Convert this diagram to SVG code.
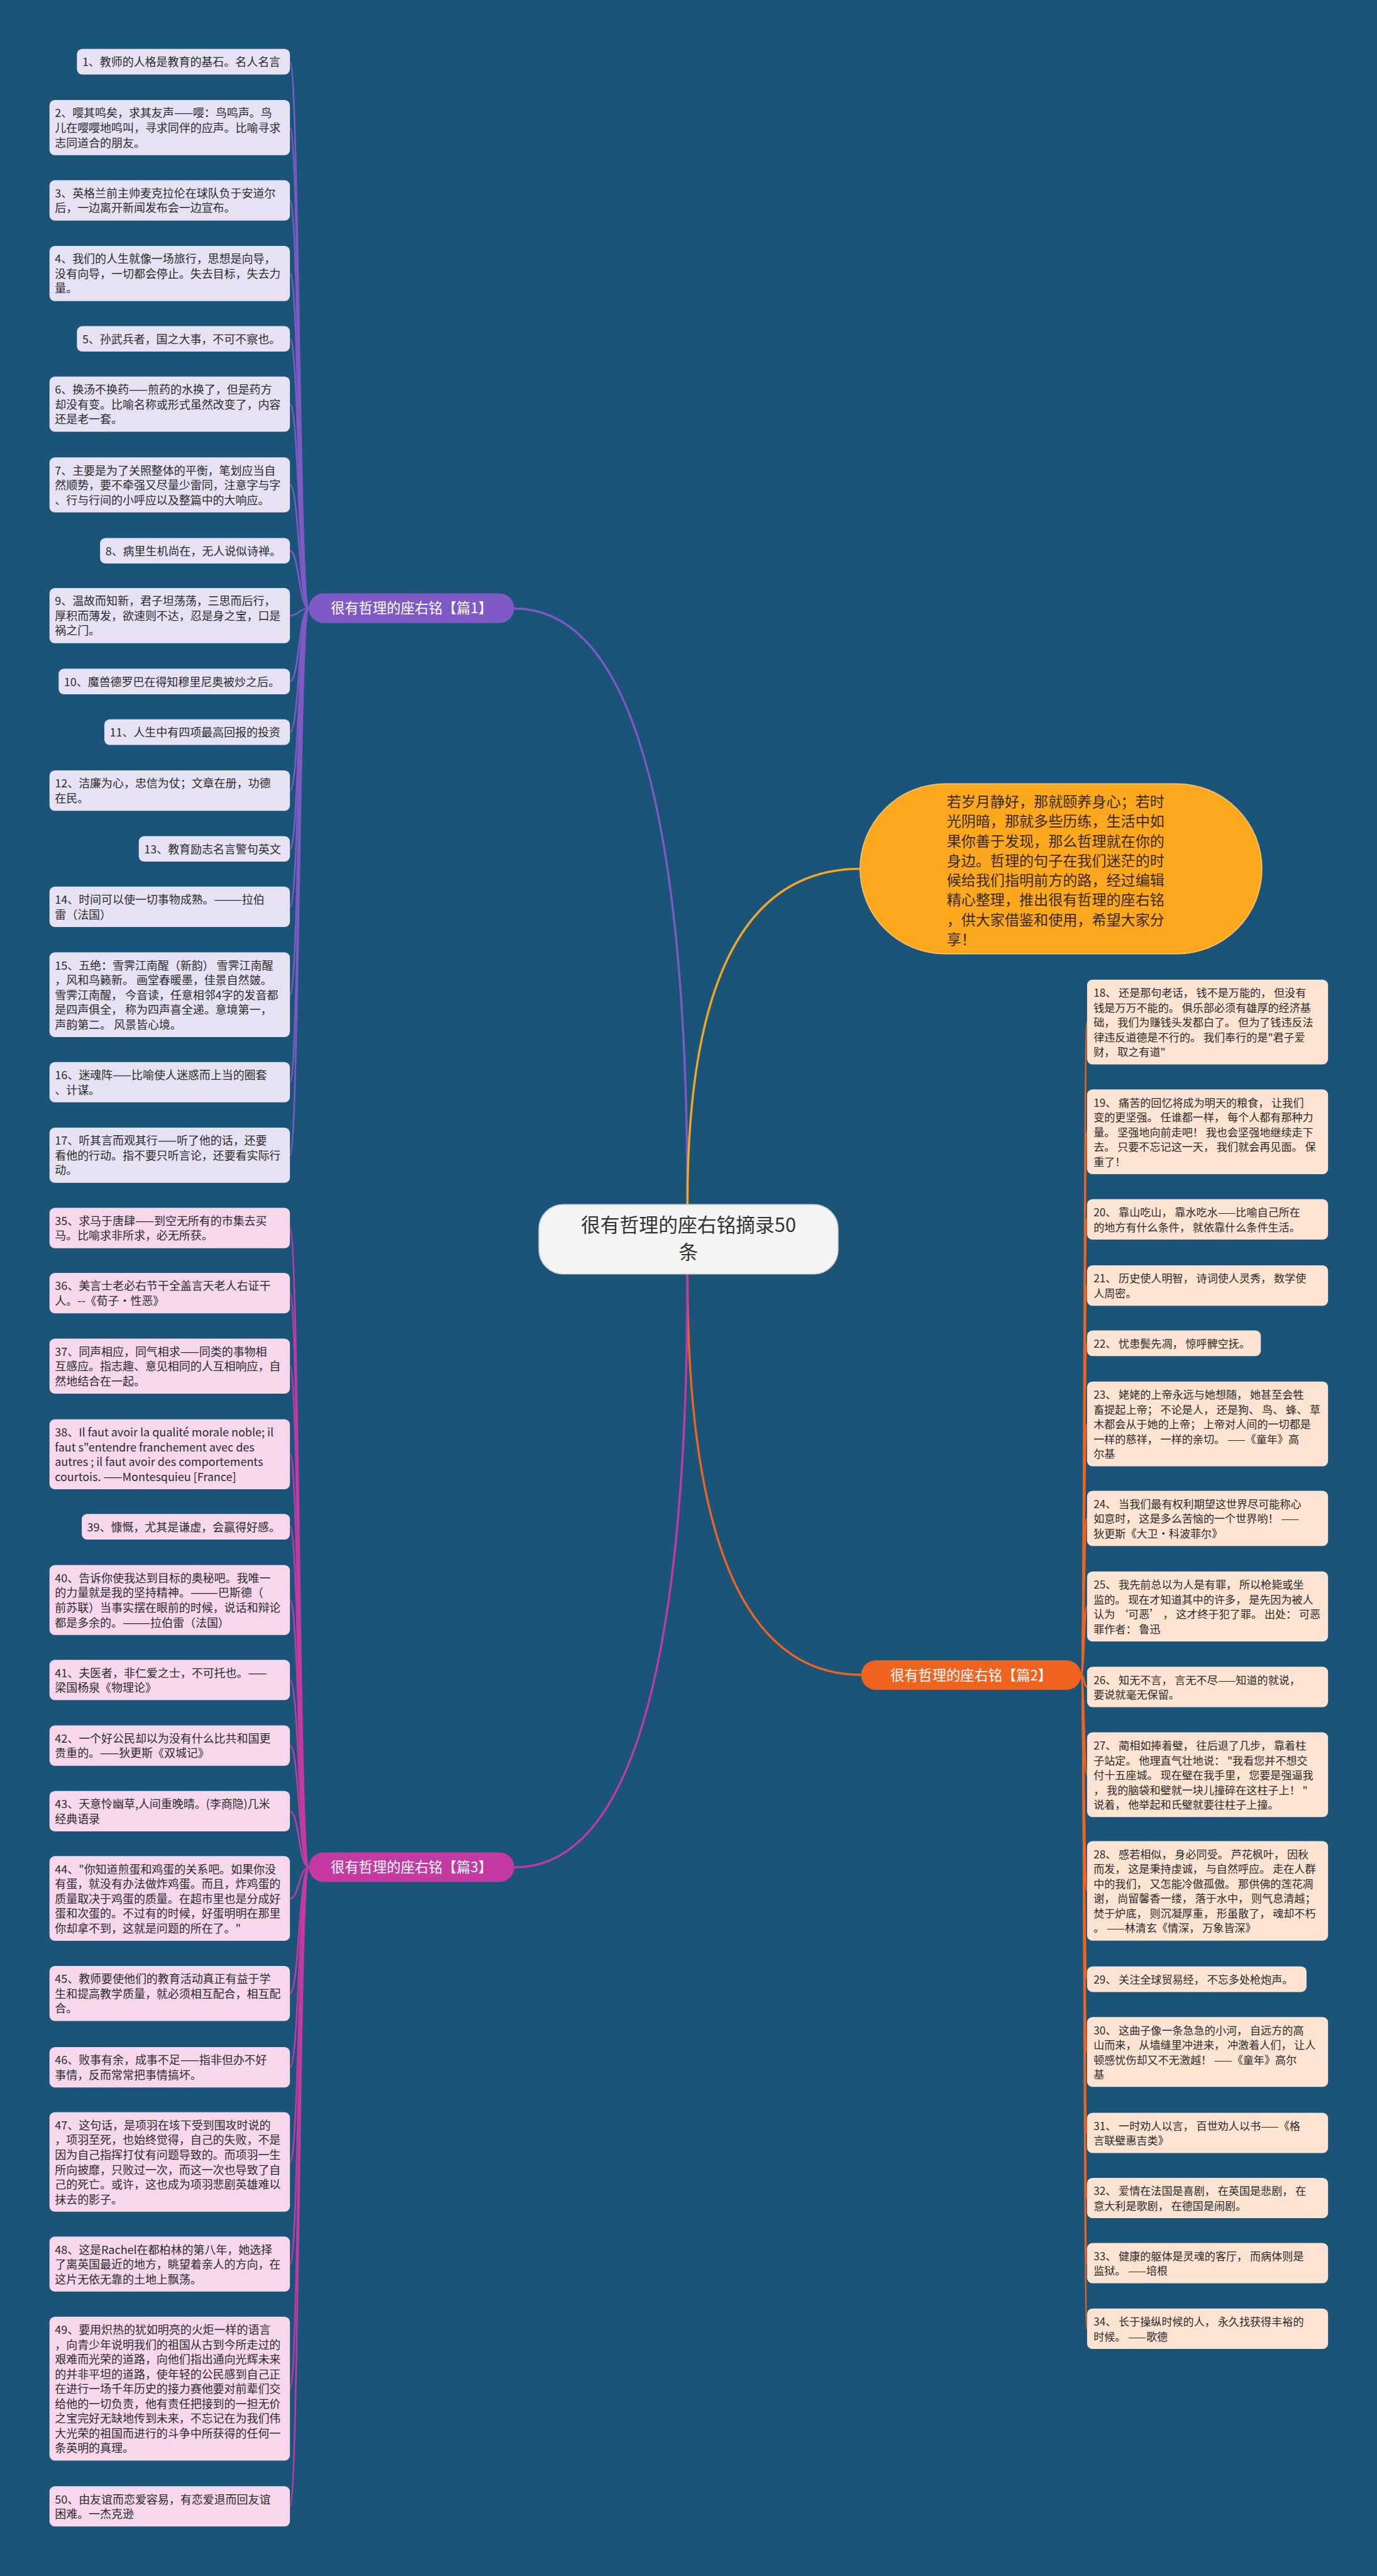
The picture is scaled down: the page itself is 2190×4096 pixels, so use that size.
<svg xmlns="http://www.w3.org/2000/svg" width="2190" height="4096" viewBox="0 0 2190 4096">
<style>
.t{font-family:"Noto Sans CJK SC","Noto Sans",sans-serif;font-size:21px;fill:#2b2b2b}
.tr{font-family:"Noto Sans CJK SC","Noto Sans",sans-serif;font-size:20px;fill:#2b2b2b}
.b1{fill:#e6e1f3}
.b3{fill:#f6d7ec}
.b2{fill:#fde3d2}
.lt{font-family:"Noto Sans CJK SC",sans-serif;font-size:26px;fill:#ffffff;text-anchor:middle}
.c1{fill:none;stroke:#7f5ac6;stroke-width:3}
.c3{fill:none;stroke:#c43aa2;stroke-width:3}
.c2{fill:none;stroke:#f0631f;stroke-width:3}
</style>
<rect width="2190" height="4096" fill="#1b5479"/>
<g transform="scale(0.85547)">
<g id="connectors">
<path d="M1278 2239 Q1278 1131 956 1131" fill="none" stroke="#7f5ac6" stroke-width="4"/>
<path d="M1278 2239 Q1278 1615 1599 1615" fill="none" stroke="#f5a623" stroke-width="4"/>
<path d="M1278 2368 Q1278 3113 1601 3113" fill="none" stroke="#f0631f" stroke-width="4"/>
<path d="M1278 2368 Q1278 3471 956 3471" fill="none" stroke="#c43aa2" stroke-width="4"/>
<path class="c1" d="M574 1131 C556 1131 556 114.75 539 114.75"/>
<path class="c1" d="M574 1131 C556 1131 556 237.25 539 237.25"/>
<path class="c1" d="M574 1131 C556 1131 556 372.5 539 372.5"/>
<path class="c1" d="M574 1131 C556 1131 556 508.25 539 508.25"/>
<path class="c1" d="M574 1131 C556 1131 556 629.75 539 629.75"/>
<path class="c1" d="M574 1131 C556 1131 556 751.25 539 751.25"/>
<path class="c1" d="M574 1131 C556 1131 556 901.25 539 901.25"/>
<path class="c1" d="M574 1131 C556 1131 556 1023.75 539 1023.75"/>
<path class="c1" d="M574 1131 C556 1131 556 1144.25 539 1144.25"/>
<path class="c1" d="M574 1131 C556 1131 556 1266.75 539 1266.75"/>
<path class="c1" d="M574 1131 C556 1131 556 1360.75 539 1360.75"/>
<path class="c1" d="M574 1131 C556 1131 556 1469.5 539 1469.5"/>
<path class="c1" d="M574 1131 C556 1131 556 1577.75 539 1577.75"/>
<path class="c1" d="M574 1131 C556 1131 556 1685.5 539 1685.5"/>
<path class="c1" d="M574 1131 C556 1131 556 1848.75 539 1848.75"/>
<path class="c1" d="M574 1131 C556 1131 556 2011.5 539 2011.5"/>
<path class="c1" d="M574 1131 C556 1131 556 2147.25 539 2147.25"/>
<path class="c3" d="M574 3471 C556 3471 556 2282.5 539 2282.5"/>
<path class="c3" d="M574 3471 C556 3471 556 2403.5 539 2403.5"/>
<path class="c3" d="M574 3471 C556 3471 556 2539.25 539 2539.25"/>
<path class="c3" d="M574 3471 C556 3471 556 2703 539 2703"/>
<path class="c3" d="M574 3471 C556 3471 556 2837.75 539 2837.75"/>
<path class="c3" d="M574 3471 C556 3471 556 2974 539 2974"/>
<path class="c3" d="M574 3471 C556 3471 556 3122.5 539 3122.5"/>
<path class="c3" d="M574 3471 C556 3471 556 3244.5 539 3244.5"/>
<path class="c3" d="M574 3471 C556 3471 556 3366.5 539 3366.5"/>
<path class="c3" d="M574 3471 C556 3471 556 3528.75 539 3528.75"/>
<path class="c3" d="M574 3471 C556 3471 556 3705.25 539 3705.25"/>
<path class="c3" d="M574 3471 C556 3471 556 3842.5 539 3842.5"/>
<path class="c3" d="M574 3471 C556 3471 556 4018.5 539 4018.5"/>
<path class="c3" d="M574 3471 C556 3471 556 4208.25 539 4208.25"/>
<path class="c3" d="M574 3471 C556 3471 556 4439.75 539 4439.75"/>
<path class="c3" d="M574 3471 C556 3471 556 4658.5 539 4658.5"/>
<path class="c2" d="M2010 3113 C2016 3113 2015 1899.75 2021 1899.75"/>
<path class="c2" d="M2010 3113 C2016 3113 2015 2103.75 2021 2103.75"/>
<path class="c2" d="M2010 3113 C2016 3113 2015 2266.5 2021 2266.5"/>
<path class="c2" d="M2010 3113 C2016 3113 2015 2389.5 2021 2389.5"/>
<path class="c2" d="M2010 3113 C2016 3113 2015 2496.75 2021 2496.75"/>
<path class="c2" d="M2010 3113 C2016 3113 2015 2646.75 2021 2646.75"/>
<path class="c2" d="M2010 3113 C2016 3113 2015 2822.25 2021 2822.25"/>
<path class="c2" d="M2010 3113 C2016 3113 2015 2986 2021 2986"/>
<path class="c2" d="M2010 3113 C2016 3113 2015 3135.5 2021 3135.5"/>
<path class="c2" d="M2010 3113 C2016 3113 2015 3298.75 2021 3298.75"/>
<path class="c2" d="M2010 3113 C2016 3113 2015 3514.5 2021 3514.5"/>
<path class="c2" d="M2010 3113 C2016 3113 2015 3678.75 2021 3678.75"/>
<path class="c2" d="M2010 3113 C2016 3113 2015 3814 2021 3814"/>
<path class="c2" d="M2010 3113 C2016 3113 2015 3964.5 2021 3964.5"/>
<path class="c2" d="M2010 3113 C2016 3113 2015 4085.5 2021 4085.5"/>
<path class="c2" d="M2010 3113 C2016 3113 2015 4206.5 2021 4206.5"/>
<path class="c2" d="M2010 3113 C2016 3113 2015 4328.5 2021 4328.5"/>
</g>

<g id="center">
<rect x="1002" y="2239" width="556" height="129" rx="45" fill="#f4f4f4" stroke="#d0d0d0" stroke-width="2"/>
<text x="1280" y="2290" text-anchor="middle" font-family="'Noto Sans CJK SC',sans-serif" font-size="36" fill="#333">很有哲理的座右铭摘录50</text>
<text x="1280" y="2340" text-anchor="middle" font-family="'Noto Sans CJK SC',sans-serif" font-size="36" fill="#333">条</text>
</g>

<g id="intro">
<rect x="1599" y="1457" width="747" height="316" rx="158" fill="#fca81e" stroke="#f3c468" stroke-width="2"/>
<g font-family="'Noto Sans CJK SC',sans-serif" font-size="27" fill="#3a2a10">
<text x="1760" y="1500">若岁月静好，那就颐养身心；若时</text>
<text x="1760" y="1536.5">光阴暗，那就多些历练，生活中如</text>
<text x="1760" y="1573">果你善于发现，那么哲理就在你的</text>
<text x="1760" y="1609.5">身边。哲理的句子在我们迷茫的时</text>
<text x="1760" y="1646">候给我们指明前方的路，经过编辑</text>
<text x="1760" y="1682.5">精心整理，推出很有哲理的座右铭</text>
<text x="1760" y="1719">，供大家借鉴和使用，希望大家分</text>
<text x="1760" y="1755.5">享！</text>
</g>
</g>

<g id="branch1">
<rect x="574" y="1103" width="382" height="55" rx="27.5" fill="#7f5ac6"/>
<text class="lt" x="765" y="1140">很有哲理的座右铭【篇1】</text>
</g>
<g id="branch2">
<rect x="1601" y="3086" width="409" height="55" rx="27.5" fill="#f0631f"/>
<text class="lt" x="1805.5" y="3123">很有哲理的座右铭【篇2】</text>
</g>
<g id="branch3">
<rect x="574" y="3443" width="382" height="55" rx="27.5" fill="#c43aa2"/>
<text class="lt" x="765" y="3480">很有哲理的座右铭【篇3】</text>
</g>

<g id="n1"><rect class="b1" x="143" y="91" width="396" height="47.5" rx="10"/><text class="t" x="153" y="123">1、教师的人格是教育的基石。名人名言</text></g>
<g id="n2"><rect class="b1" x="92" y="186" width="447" height="102.5" rx="10"/><text class="t" x="102" y="218">2、嘤其鸣矣，求其友声——嘤：鸟鸣声。鸟</text><text class="t" x="102" y="245.5">儿在嘤嘤地鸣叫，寻求同伴的应声。比喻寻求</text><text class="t" x="102" y="273">志同道合的朋友。</text></g>
<g id="n3"><rect class="b1" x="92" y="335" width="447" height="75" rx="10"/><text class="t" x="102" y="367">3、英格兰前主帅麦克拉伦在球队负于安道尔</text><text class="t" x="102" y="394.5">后，一边离开新闻发布会一边宣布。</text></g>
<g id="n4"><rect class="b1" x="92" y="457" width="447" height="102.5" rx="10"/><text class="t" x="102" y="489">4、我们的人生就像一场旅行，思想是向导，</text><text class="t" x="102" y="516.5">没有向导，一切都会停止。失去目标，失去力</text><text class="t" x="102" y="544">量。</text></g>
<g id="n5"><rect class="b1" x="143" y="606" width="396" height="47.5" rx="10"/><text class="t" x="153" y="638">5、孙武兵者，国之大事，不可不察也。</text></g>
<g id="n6"><rect class="b1" x="92" y="700" width="447" height="102.5" rx="10"/><text class="t" x="102" y="732">6、换汤不换药——煎药的水换了，但是药方</text><text class="t" x="102" y="759.5">却没有变。比喻名称或形式虽然改变了，内容</text><text class="t" x="102" y="787">还是老一套。</text></g>
<g id="n7"><rect class="b1" x="92" y="850" width="447" height="102.5" rx="10"/><text class="t" x="102" y="882">7、主要是为了关照整体的平衡，笔划应当自</text><text class="t" x="102" y="909.5">然顺势，要不牵强又尽量少雷同，注意字与字</text><text class="t" x="102" y="937">、行与行间的小呼应以及整篇中的大响应。</text></g>
<g id="n8"><rect class="b1" x="186" y="1000" width="353" height="47.5" rx="10"/><text class="t" x="196" y="1032">8、病里生机尚在，无人说似诗禅。</text></g>
<g id="n9"><rect class="b1" x="92" y="1093" width="447" height="102.5" rx="10"/><text class="t" x="102" y="1125">9、温故而知新，君子坦荡荡，三思而后行，</text><text class="t" x="102" y="1152.5">厚积而薄发，欲速则不达，忍是身之宝，口是</text><text class="t" x="102" y="1180">祸之门。</text></g>
<g id="n10"><rect class="b1" x="109" y="1243" width="430" height="47.5" rx="10"/><text class="t" x="119" y="1275">10、魔兽德罗巴在得知穆里尼奥被炒之后。</text></g>
<g id="n11"><rect class="b1" x="194" y="1337" width="345" height="47.5" rx="10"/><text class="t" x="204" y="1369">11、人生中有四项最高回报的投资</text></g>
<g id="n12"><rect class="b1" x="92" y="1432" width="447" height="75" rx="10"/><text class="t" x="102" y="1464">12、洁廉为心，忠信为仗；文章在册，功德</text><text class="t" x="102" y="1491.5">在民。</text></g>
<g id="n13"><rect class="b1" x="258" y="1554" width="281" height="47.5" rx="10"/><text class="t" x="268" y="1586">13、教育励志名言警句英文</text></g>
<g id="n14"><rect class="b1" x="92" y="1648" width="447" height="75" rx="10"/><text class="t" x="102" y="1680">14、时间可以使一切事物成熟。———拉伯</text><text class="t" x="102" y="1707.5">雷（法国）</text></g>
<g id="n15"><rect class="b1" x="92" y="1770" width="447" height="157.5" rx="10"/><text class="t" x="102" y="1802">15、五绝：雪霁江南醒（新韵） 雪霁江南醒</text><text class="t" x="102" y="1829.5">，风和鸟籁新。 画堂春暖墨，佳景自然皴。</text><text class="t" x="102" y="1857">雪霁江南醒， 今音读，任意相邻4字的发音都</text><text class="t" x="102" y="1884.5">是四声俱全， 称为四声喜全递。意境第一，</text><text class="t" x="102" y="1912">声韵第二。 风景皆心境。</text></g>
<g id="n16"><rect class="b1" x="92" y="1974" width="447" height="75" rx="10"/><text class="t" x="102" y="2006">16、迷魂阵——比喻使人迷惑而上当的圈套</text><text class="t" x="102" y="2033.5">、计谋。</text></g>
<g id="n17"><rect class="b1" x="92" y="2096" width="447" height="102.5" rx="10"/><text class="t" x="102" y="2128">17、听其言而观其行——听了他的话，还要</text><text class="t" x="102" y="2155.5">看他的行动。指不要只听言论，还要看实际行</text><text class="t" x="102" y="2183">动。</text></g>

<g id="n35"><rect class="b3" x="92" y="2245" width="447" height="75" rx="10"/><text class="t" x="102" y="2277">35、求马于唐肆——到空无所有的市集去买</text><text class="t" x="102" y="2304.5">马。比喻求非所求，必无所获。</text></g>
<g id="n36"><rect class="b3" x="92" y="2366" width="447" height="75" rx="10"/><text class="t" x="102" y="2398">36、美言士老必右节干全盖言天老人右证干</text><text class="t" x="102" y="2425.5">人。--《荀子·性恶》</text></g>
<g id="n37"><rect class="b3" x="92" y="2488" width="447" height="102.5" rx="10"/><text class="t" x="102" y="2520">37、同声相应，同气相求——同类的事物相</text><text class="t" x="102" y="2547.5">互感应。指志趣、意见相同的人互相响应，自</text><text class="t" x="102" y="2575">然地结合在一起。</text></g>
<g id="n38"><rect class="b3" x="92" y="2638" width="447" height="130" rx="10"/><text class="t" x="102" y="2670">38、Il faut avoir la qualité morale noble; il</text><text class="t" x="102" y="2697.5"> faut s"entendre franchement avec des</text><text class="t" x="102" y="2725">autres ; il faut avoir des comportements</text><text class="t" x="102" y="2752.5">courtois. ——Montesquieu [France]</text></g>
<g id="n39"><rect class="b3" x="152" y="2814" width="387" height="47.5" rx="10"/><text class="t" x="162" y="2846">39、慷慨，尤其是谦虚，会赢得好感。</text></g>
<g id="n40"><rect class="b3" x="92" y="2909" width="447" height="130" rx="10"/><text class="t" x="102" y="2941">40、告诉你使我达到目标的奥秘吧。我唯一</text><text class="t" x="102" y="2968.5">的力量就是我的坚持精神。———巴斯德（</text><text class="t" x="102" y="2996">前苏联）当事实摆在眼前的时候，说话和辩论</text><text class="t" x="102" y="3023.5">都是多余的。———拉伯雷（法国）</text></g>
<g id="n41"><rect class="b3" x="92" y="3085" width="447" height="75" rx="10"/><text class="t" x="102" y="3117">41、夫医者，非仁爱之士，不可托也。——</text><text class="t" x="102" y="3144.5">梁国杨泉《物理论》</text></g>
<g id="n42"><rect class="b3" x="92" y="3207" width="447" height="75" rx="10"/><text class="t" x="102" y="3239">42、一个好公民却以为没有什么比共和国更</text><text class="t" x="102" y="3266.5">贵重的。——狄更斯《双城记》</text></g>
<g id="n43"><rect class="b3" x="92" y="3329" width="447" height="75" rx="10"/><text class="t" x="102" y="3361">43、天意怜幽草,人间重晚晴。(李商隐)几米</text><text class="t" x="102" y="3388.5">经典语录</text></g>
<g id="n44"><rect class="b3" x="92" y="3450" width="447" height="157.5" rx="10"/><text class="t" x="102" y="3482">44、"你知道煎蛋和鸡蛋的关系吧。如果你没</text><text class="t" x="102" y="3509.5">有蛋，就没有办法做炸鸡蛋。而且，炸鸡蛋的</text><text class="t" x="102" y="3537">质量取决于鸡蛋的质量。在超市里也是分成好</text><text class="t" x="102" y="3564.5">蛋和次蛋的。不过有的时候，好蛋明明在那里</text><text class="t" x="102" y="3592">你却拿不到，这就是问题的所在了。"</text></g>
<g id="n45"><rect class="b3" x="92" y="3654" width="447" height="102.5" rx="10"/><text class="t" x="102" y="3686">45、教师要使他们的教育活动真正有益于学</text><text class="t" x="102" y="3713.5">生和提高教学质量，就必须相互配合，相互配</text><text class="t" x="102" y="3741">合。</text></g>
<g id="n46"><rect class="b3" x="92" y="3805" width="447" height="75" rx="10"/><text class="t" x="102" y="3837">46、败事有余，成事不足——指非但办不好</text><text class="t" x="102" y="3864.5">事情，反而常常把事情搞坏。</text></g>
<g id="n47"><rect class="b3" x="92" y="3926" width="447" height="185" rx="10"/><text class="t" x="102" y="3958">47、这句话，是项羽在垓下受到围攻时说的</text><text class="t" x="102" y="3985.5">，项羽至死，也始终觉得，自己的失败，不是</text><text class="t" x="102" y="4013">因为自己指挥打仗有问题导致的。而项羽一生</text><text class="t" x="102" y="4040.5">所向披靡，只败过一次，而这一次也导致了自</text><text class="t" x="102" y="4068">己的死亡。或许，这也成为项羽悲剧英雄难以</text><text class="t" x="102" y="4095.5">抹去的影子。</text></g>
<g id="n48"><rect class="b3" x="92" y="4157" width="447" height="102.5" rx="10"/><text class="t" x="102" y="4189">48、这是Rachel在都柏林的第八年，她选择</text><text class="t" x="102" y="4216.5">了离英国最近的地方，眺望着亲人的方向，在</text><text class="t" x="102" y="4244">这片无依无靠的土地上飘荡。</text></g>
<g id="n49"><rect class="b3" x="92" y="4306" width="447" height="267.5" rx="10"/><text class="t" x="102" y="4338">49、要用炽热的犹如明亮的火炬一样的语言</text><text class="t" x="102" y="4365.5">，向青少年说明我们的祖国从古到今所走过的</text><text class="t" x="102" y="4393">艰难而光荣的道路，向他们指出通向光辉未来</text><text class="t" x="102" y="4420.5">的并非平坦的道路，使年轻的公民感到自己正</text><text class="t" x="102" y="4448">在进行一场千年历史的接力赛他要对前辈们交</text><text class="t" x="102" y="4475.5">给他的一切负责，他有责任把接到的一担无价</text><text class="t" x="102" y="4503">之宝完好无缺地传到未来，不忘记在为我们伟</text><text class="t" x="102" y="4530.5">大光荣的祖国而进行的斗争中所获得的任何一</text><text class="t" x="102" y="4558">条英明的真理。</text></g>
<g id="n50"><rect class="b3" x="92" y="4621" width="447" height="75" rx="10"/><text class="t" x="102" y="4653">50、由友谊而恋爱容易，有恋爱退而回友谊</text><text class="t" x="102" y="4680.5">困难。一杰克逊</text></g>

<g id="n18"><rect class="b2" x="2021" y="1821" width="448" height="157.5" rx="10"/><text class="tr" x="2033" y="1853">18、 还是那句老话， 钱不是万能的， 但没有</text><text class="tr" x="2033" y="1880.5">钱是万万不能的。 俱乐部必须有雄厚的经济基</text><text class="tr" x="2033" y="1908">础， 我们为赚钱头发都白了。 但为了钱违反法</text><text class="tr" x="2033" y="1935.5">律违反道德是不行的。 我们奉行的是"君子爱</text><text class="tr" x="2033" y="1963">财， 取之有道"</text></g>
<g id="n19"><rect class="b2" x="2021" y="2025" width="448" height="157.5" rx="10"/><text class="tr" x="2033" y="2057">19、 痛苦的回忆将成为明天的粮食， 让我们</text><text class="tr" x="2033" y="2084.5">变的更坚强。 任谁都一样， 每个人都有那种力</text><text class="tr" x="2033" y="2112">量。 坚强地向前走吧！ 我也会坚强地继续走下</text><text class="tr" x="2033" y="2139.5">去。 只要不忘记这一天， 我们就会再见面。 保</text><text class="tr" x="2033" y="2167">重了！</text></g>
<g id="n20"><rect class="b2" x="2021" y="2229" width="448" height="75" rx="10"/><text class="tr" x="2033" y="2261">20、 靠山吃山， 靠水吃水——比喻自己所在</text><text class="tr" x="2033" y="2288.5">的地方有什么条件， 就依靠什么条件生活。</text></g>
<g id="n21"><rect class="b2" x="2021" y="2352" width="448" height="75" rx="10"/><text class="tr" x="2033" y="2384">21、 历史使人明智， 诗词使人灵秀， 数学使</text><text class="tr" x="2033" y="2411.5">人周密。</text></g>
<g id="n22"><rect class="b2" x="2021" y="2473" width="323" height="47.5" rx="10"/><text class="tr" x="2033" y="2505">22、 忧患鬓先凋， 惊呼髀空抚。</text></g>
<g id="n23"><rect class="b2" x="2021" y="2568" width="448" height="157.5" rx="10"/><text class="tr" x="2033" y="2600">23、 姥姥的上帝永远与她想随， 她甚至会牲</text><text class="tr" x="2033" y="2627.5">畜提起上帝； 不论是人， 还是狗、 鸟、 蜂、 草</text><text class="tr" x="2033" y="2655">木都会从于她的上帝； 上帝对人间的一切都是</text><text class="tr" x="2033" y="2682.5">一样的慈祥， 一样的亲切。 ——《童年》高</text><text class="tr" x="2033" y="2710">尔基</text></g>
<g id="n24"><rect class="b2" x="2021" y="2771" width="448" height="102.5" rx="10"/><text class="tr" x="2033" y="2803">24、 当我们最有权利期望这世界尽可能称心</text><text class="tr" x="2033" y="2830.5">如意时， 这是多么苦恼的一个世界哟！ ——</text><text class="tr" x="2033" y="2858">狄更斯《大卫·科波菲尔》</text></g>
<g id="n25"><rect class="b2" x="2021" y="2921" width="448" height="130" rx="10"/><text class="tr" x="2033" y="2953">25、 我先前总以为人是有罪， 所以枪毙或坐</text><text class="tr" x="2033" y="2980.5">监的。 现在才知道其中的许多， 是先因为被人</text><text class="tr" x="2033" y="3008">认为 ‘可恶’ ， 这才终于犯了罪。 出处： 可恶</text><text class="tr" x="2033" y="3035.5">罪作者： 鲁迅</text></g>
<g id="n26"><rect class="b2" x="2021" y="3098" width="448" height="75" rx="10"/><text class="tr" x="2033" y="3130">26、 知无不言， 言无不尽——知道的就说，</text><text class="tr" x="2033" y="3157.5">要说就毫无保留。</text></g>
<g id="n27"><rect class="b2" x="2021" y="3220" width="448" height="157.5" rx="10"/><text class="tr" x="2033" y="3252">27、 蔺相如捧着璧， 往后退了几步， 靠着柱</text><text class="tr" x="2033" y="3279.5">子站定。 他理直气壮地说： "我看您并不想交</text><text class="tr" x="2033" y="3307">付十五座城。 现在璧在我手里， 您要是强逼我</text><text class="tr" x="2033" y="3334.5">， 我的脑袋和璧就一块儿撞碎在这柱子上！ "</text><text class="tr" x="2033" y="3362">说着， 他举起和氏璧就要往柱子上撞。</text></g>
<g id="n28"><rect class="b2" x="2021" y="3422" width="448" height="185" rx="10"/><text class="tr" x="2033" y="3454">28、 感若相似， 身必同受。 芦花枫叶， 因秋</text><text class="tr" x="2033" y="3481.5">而发， 这是秉持虔诚， 与自然呼应。 走在人群</text><text class="tr" x="2033" y="3509">中的我们， 又怎能冷傲孤傲。 那供佛的莲花凋</text><text class="tr" x="2033" y="3536.5">谢， 尚留馨香一缕， 落于水中， 则气息清越；</text><text class="tr" x="2033" y="3564">焚于炉底， 则沉凝厚重， 形虽散了， 魂却不朽</text><text class="tr" x="2033" y="3591.5">。 ——林清玄《情深， 万象皆深》</text></g>
<g id="n29"><rect class="b2" x="2021" y="3655" width="408" height="47.5" rx="10"/><text class="tr" x="2033" y="3687">29、 关注全球贸易经， 不忘多处枪炮声。</text></g>
<g id="n30"><rect class="b2" x="2021" y="3749" width="448" height="130" rx="10"/><text class="tr" x="2033" y="3781">30、 这曲子像一条急急的小河， 自远方的高</text><text class="tr" x="2033" y="3808.5">山而来， 从墙缝里冲进来， 冲激着人们， 让人</text><text class="tr" x="2033" y="3836">顿感忧伤却又不无激越！ ——《童年》高尔</text><text class="tr" x="2033" y="3863.5">基</text></g>
<g id="n31"><rect class="b2" x="2021" y="3927" width="448" height="75" rx="10"/><text class="tr" x="2033" y="3959">31、 一时劝人以言， 百世劝人以书——《格</text><text class="tr" x="2033" y="3986.5">言联璧惠吉类》</text></g>
<g id="n32"><rect class="b2" x="2021" y="4048" width="448" height="75" rx="10"/><text class="tr" x="2033" y="4080">32、 爱情在法国是喜剧， 在英国是悲剧， 在</text><text class="tr" x="2033" y="4107.5">意大利是歌剧， 在德国是闹剧。</text></g>
<g id="n33"><rect class="b2" x="2021" y="4169" width="448" height="75" rx="10"/><text class="tr" x="2033" y="4201">33、 健康的躯体是灵魂的客厅， 而病体则是</text><text class="tr" x="2033" y="4228.5">监狱。 ——培根</text></g>
<g id="n34"><rect class="b2" x="2021" y="4291" width="448" height="75" rx="10"/><text class="tr" x="2033" y="4323">34、 长于操纵时候的人， 永久找获得丰裕的</text><text class="tr" x="2033" y="4350.5">时候。 ——歌德</text></g>
</g>
</svg>
